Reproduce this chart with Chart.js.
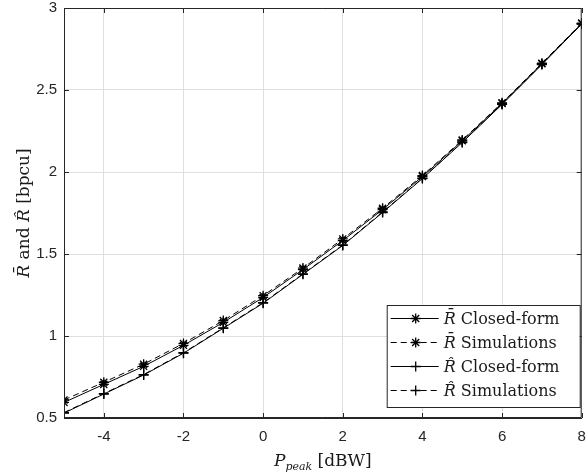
<!DOCTYPE html>
<html lang="en">
<head>
<meta charset="UTF-8">
<title>Average rate vs peak power</title>
<style>
  html, body { margin: 0; padding: 0; background: #fff; }
  #wrap { width: 588px; height: 472px; }
</style>
<script src="https://cdn.jsdelivr.net/npm/chart.js"></script>
</head>
<body>
<div id="wrap"><canvas id="rateChart" width="588" height="472"></canvas></div>
<script>
// peak power sweep [dBW]
const pPeak = [-5, -4, -3, -2, -1, 0, 1, 2, 3, 4, 5, 6, 7, 8];

// R-bar and R-hat, closed-form vs simulated [bpcu]
const rBarClosed = [0.595, 0.705, 0.815, 0.943, 1.083, 1.235, 1.405, 1.582, 1.771, 1.972, 2.19, 2.418, 2.66, 2.905];
const rBarSim    = [0.610, 0.718, 0.828, 0.955, 1.094, 1.246, 1.414, 1.592, 1.779, 1.978, 2.195, 2.422, 2.663, 2.908];
const rHatClosed = [0.530, 0.646, 0.762, 0.895, 1.047, 1.200, 1.376, 1.552, 1.753, 1.960, 2.180, 2.412, 2.655, 2.902];
const rHatSim    = [0.533, 0.649, 0.765, 0.898, 1.050, 1.203, 1.379, 1.555, 1.756, 1.962, 2.182, 2.414, 2.657, 2.903];

const xTickValues = [-4, -2, 0, 2, 4, 6, 8];
const yTickValues = [0.5, 1, 1.5, 2, 2.5, 3];

const seriesSymbols = ['R\u0304', 'R\u0304', 'R\u0302', 'R\u0302'];
const seriesLabels = ['Closed-form', 'Simulations', 'Closed-form', 'Simulations'];

const axisColor = '#262626';
const gridColor = '#dfdfdf';
const serif = '"DejaVu Serif", "Liberation Serif", serif';
const sans = '"Liberation Sans", Arial, sans-serif';

function makeSeries(i, data, marker, dashed) {
  return {
    label: seriesSymbols[i] + ' ' + seriesLabels[i],
    data: data.map((y, k) => ({ x: pPeak[k], y: y })),
    borderColor: '#000',
    backgroundColor: '#000',
    borderWidth: 1,
    borderDash: dashed ? [6, 4] : [],
    pointStyle: marker,
    pointRadius: 5,
    pointBorderWidth: 1.3,
    pointBorderColor: '#000',
    pointHoverRadius: 5,
    tension: 0,
    fill: false
  };
}

// draws a run of text pieces with different fonts on one baseline
function drawRich(ctx, parts, x, y, align) {
  let total = 0;
  parts.forEach(p => { ctx.font = p.font; total += ctx.measureText(p.text).width; });
  let cx = align === 'center' ? x - total / 2 : x;
  parts.forEach(p => {
    ctx.font = p.font;
    ctx.fillText(p.text, cx, y + (p.dy || 0));
    cx += ctx.measureText(p.text).width;
  });
}

function drawMarker(ctx, style, x, y, r) {
  ctx.beginPath();
  ctx.moveTo(x - r, y); ctx.lineTo(x + r, y);
  ctx.moveTo(x, y - r); ctx.lineTo(x, y + r);
  if (style === 'star') {
    const d = r * Math.SQRT1_2;
    ctx.moveTo(x - d, y - d); ctx.lineTo(x + d, y + d);
    ctx.moveTo(x - d, y + d); ctx.lineTo(x + d, y - d);
  }
  ctx.stroke();
}

// box, inward ticks, axis titles and the legend
const plotDecor = {
  id: 'plotDecor',
  afterDraw(chart) {
    const ctx = chart.ctx;
    const a = chart.chartArea;
    const xs = chart.scales.x, ys = chart.scales.y;
    ctx.save();

    ctx.strokeStyle = axisColor;
    ctx.lineWidth = 1;
    ctx.setLineDash([]);
    ctx.beginPath();
    ctx.rect(a.left + 0.5, a.top + 0.5, a.right - a.left - 1, a.bottom - a.top - 1);
    xTickValues.forEach(v => {
      const px = Math.round(xs.getPixelForValue(v)) + 0.5;
      ctx.moveTo(px, a.bottom); ctx.lineTo(px, a.bottom - 5);
      ctx.moveTo(px, a.top); ctx.lineTo(px, a.top + 5);
    });
    yTickValues.forEach(v => {
      const py = Math.round(ys.getPixelForValue(v)) + 0.5;
      ctx.moveTo(a.left, py); ctx.lineTo(a.left + 5, py);
      ctx.moveTo(a.right, py); ctx.lineTo(a.right - 5, py);
    });
    ctx.stroke();

    // axis titles
    ctx.fillStyle = '#1a1a1a';
    ctx.textBaseline = 'alphabetic';
    drawRich(ctx, [
      { text: 'P', font: 'italic 17px ' + serif },
      { text: 'peak', font: 'italic 11px ' + serif, dy: 4 },
      { text: ' [dBW]', font: '17px ' + serif }
    ], (a.left + a.right) / 2, 466, 'center');

    ctx.save();
    ctx.translate(29, (a.top + a.bottom) / 2);
    ctx.rotate(-Math.PI / 2);
    drawRich(ctx, [
      { text: 'R\u0304', font: 'italic 17px ' + serif },
      { text: ' and ', font: '17px ' + serif },
      { text: 'R\u0302', font: 'italic 17px ' + serif },
      { text: ' [bpcu]', font: '17px ' + serif }
    ], 0, 0, 'center');
    ctx.restore();

    // legend
    const bw = 193, bh = 102;
    const bx = a.right - 2 - bw, by = a.bottom - 11 - bh;
    ctx.fillStyle = '#fff';
    ctx.fillRect(bx, by, bw, bh);
    ctx.strokeStyle = axisColor;
    ctx.strokeRect(bx + 0.5, by + 0.5, bw, bh);

    chart.data.datasets.forEach((ds, i) => {
      const ry = by + 13.5 + i * 24;
      ctx.strokeStyle = '#000';
      ctx.lineWidth = 1;
      ctx.setLineDash(ds.borderDash);
      ctx.beginPath();
      ctx.moveTo(bx + 4, ry); ctx.lineTo(bx + 52, ry);
      ctx.stroke();
      ctx.setLineDash([]);
      ctx.lineWidth = 1.3;
      drawMarker(ctx, ds.pointStyle, bx + 29, ry, 5);
      ctx.fillStyle = '#1a1a1a';
      ctx.textBaseline = 'middle';
      drawRich(ctx, [
        { text: seriesSymbols[i], font: 'italic 16px ' + serif },
        { text: ' ' + seriesLabels[i], font: '16px ' + serif }
      ], bx + 57, ry + 1, 'left');
    });
    ctx.restore();
  }
};

const ctx = document.getElementById('rateChart').getContext('2d');
const chart = new Chart(ctx, {
  type: 'line',
  data: {
    datasets: [
      makeSeries(0, rBarClosed, 'star', false),
      makeSeries(1, rBarSim, 'star', true),
      makeSeries(2, rHatClosed, 'cross', false),
      makeSeries(3, rHatSim, 'cross', true)
    ]
  },
  options: {
    responsive: false,
    animation: false,
    events: [],
    layout: { padding: { left: 0, top: 8, right: 4, bottom: 0 } },
    plugins: {
      legend: { display: false },
      tooltip: { enabled: false }
    },
    scales: {
      x: {
        type: 'linear',
        min: -5,
        max: 8,
        afterBuildTicks: s => { s.ticks = xTickValues.map(v => ({ value: v })); },
        afterFit: s => { s.height = 54; s.paddingLeft = 0; s.paddingRight = 0; },
        grid: { color: gridColor, drawTicks: false },
        border: { color: axisColor },
        ticks: {
          padding: 10,
          color: axisColor,
          font: { family: sans, size: 15 },
          maxRotation: 0,
          callback: v => String(v)
        }
      },
      y: {
        type: 'linear',
        min: 0.5,
        max: 3,
        afterBuildTicks: s => { s.ticks = yTickValues.map(v => ({ value: v })); },
        afterFit: s => { s.width = 64; s.paddingTop = 0; s.paddingBottom = 0; },
        grid: { color: gridColor, drawTicks: false },
        border: { color: axisColor },
        ticks: {
          padding: 7,
          color: axisColor,
          font: { family: sans, size: 15 },
          callback: v => String(v)
        }
      }
    }
  },
  plugins: [plotDecor]
});
</script>
</body>
</html>
